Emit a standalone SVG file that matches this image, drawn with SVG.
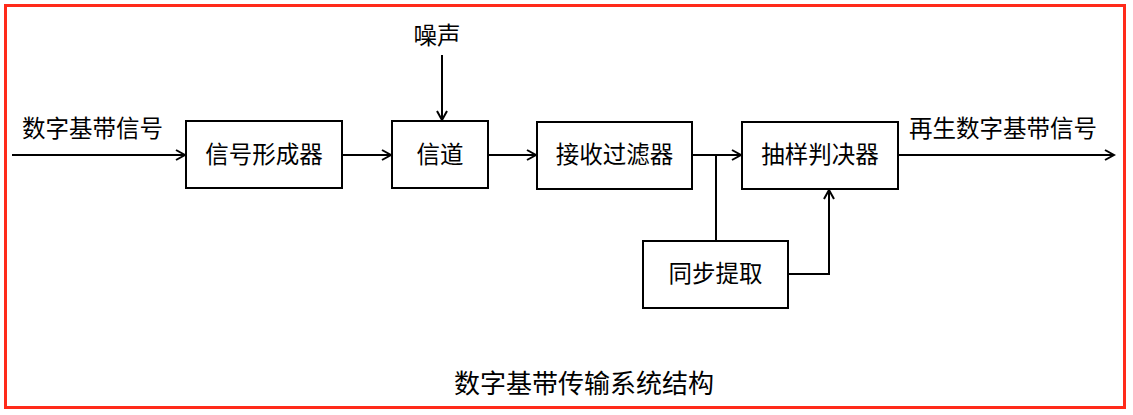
<svg xmlns="http://www.w3.org/2000/svg" width="1133" height="415" viewBox="0 0 1133 415">
<defs>
<marker id="arr" markerWidth="12" markerHeight="12" refX="10" refY="6" orient="auto" markerUnits="userSpaceOnUse">
<path d="M1,1 L10,6 L1,11" fill="none" stroke="#000" stroke-width="2"/>
</marker>
<style>
.box{fill:#fff;stroke:#000;stroke-width:2}
.t{font-family:"Noto Sans CJK SC","Microsoft YaHei",sans-serif;font-size:23.5px;fill:#000}
.c{text-anchor:middle;dominant-baseline:central}
.ln{fill:none;stroke:#000;stroke-width:2}
</style>
</defs>
<rect x="0" y="0" width="1133" height="415" fill="#fff"/>
<rect x="5.5" y="5.5" width="1119" height="402" fill="none" stroke="#ff2a1a" stroke-width="3"/>
<g id="connectors">
<line class="ln" x1="12" y1="155" x2="185" y2="155" marker-end="url(#arr)"/>
<line class="ln" x1="342" y1="155" x2="391" y2="155" marker-end="url(#arr)"/>
<line class="ln" x1="442" y1="55" x2="442" y2="120" marker-end="url(#arr)"/>
<line class="ln" x1="488" y1="155" x2="536" y2="155" marker-end="url(#arr)"/>
<line class="ln" x1="692" y1="155" x2="741" y2="155" marker-end="url(#arr)"/>
<line class="ln" x1="716" y1="155" x2="716" y2="241"/>
<polyline class="ln" points="788,274 829,274 829,190" marker-end="url(#arr)"/>
<line class="ln" x1="898" y1="155" x2="1114" y2="155" marker-end="url(#arr)"/>
</g>
<g id="n1"><rect class="box" x="186" y="121" width="156" height="67"/><text class="t c" x="264" y="152.5">信号形成器</text></g>
<g id="n2"><rect class="box" x="392" y="121" width="96" height="67"/><text class="t c" x="440" y="152.5">信道</text></g>
<g id="n3"><rect class="box" x="537" y="122" width="155" height="67"/><text class="t c" x="614.5" y="153">接收过滤器</text></g>
<g id="n4"><rect class="box" x="742" y="122" width="156" height="67"/><text class="t c" x="820" y="153">抽样判决器</text></g>
<g id="n5"><rect class="box" x="643" y="241" width="145" height="67"/><text class="t c" x="715.5" y="272">同步提取</text></g>
<g id="labels">
<text class="t c" x="92.5" y="127">数字基带信号</text>
<text class="t c" x="437" y="34">噪声</text>
<text class="t c" x="1003" y="127">再生数字基带信号</text>
<text class="t c" x="584" y="381" style="font-size:26px">数字基带传输系统结构</text>
</g>
</svg>
